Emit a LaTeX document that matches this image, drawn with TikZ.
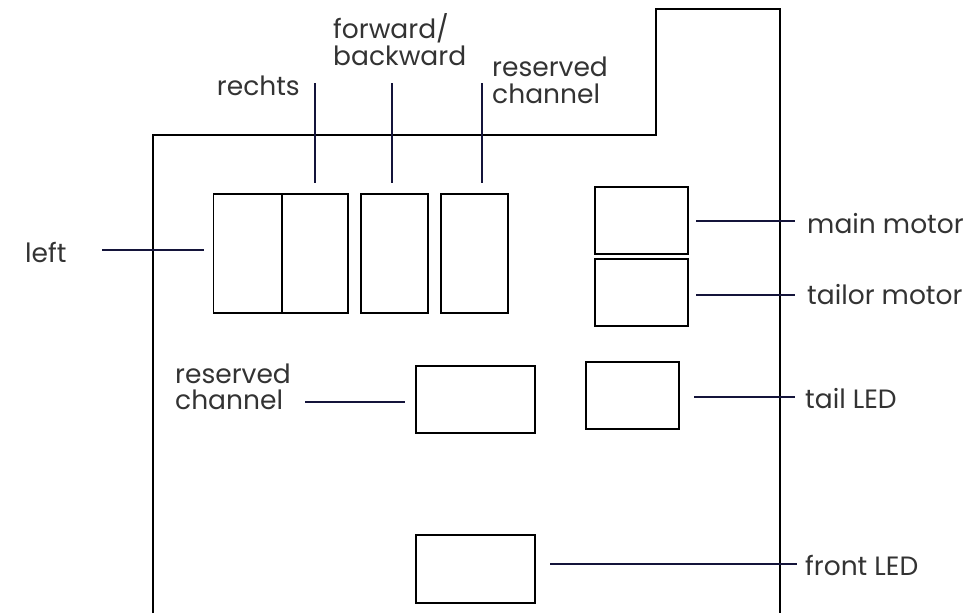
\documentclass[tikz,border=0pt]{standalone}
\usepackage{fontspec}
\setmainfont{Poppins}
\definecolor{navy}{HTML}{14143A}
\definecolor{txt}{HTML}{333333}
\begin{document}
\begin{tikzpicture}[x=1pt,y=-1pt,
  box/.style={draw=black,line width=1.5pt,inner sep=0pt,outer sep=0pt},
  conn/.style={draw=navy,line width=2.8pt},
  lbl/.style={text=txt,font=\fontsize{26.5}{30}\selectfont,inner sep=0pt},
  outline/.style={draw=black,line width=1.7pt}]
\useasboundingbox (0,0) rectangle (968,613);
% housing outline
\draw[outline] (153,613) -- (153,135) -- (656,135) -- (656,9) -- (780,9) -- (780,613);
% boxes
\node[box,minimum width=68pt,minimum height=119pt] (bl) at (247.5,253.5) {};
\node[box,minimum width=66pt,minimum height=119pt] (br) at (315,253.5) {};
\node[box,minimum width=67pt,minimum height=119pt] (bf) at (394.5,253.5) {};
\node[box,minimum width=67pt,minimum height=119pt] (brc) at (474.5,253.5) {};
\node[box,minimum width=93pt,minimum height=67pt] (mm) at (641.5,220.5) {};
\node[box,minimum width=93pt,minimum height=67pt] (tm) at (641.5,292.5) {};
\node[box,minimum width=93pt,minimum height=67pt] (tl) at (632.5,395.5) {};
\node[box,minimum width=119pt,minimum height=67pt] (rc2) at (475.5,399.5) {};
\node[box,minimum width=119pt,minimum height=68pt] (fl) at (475.5,569) {};
% free ends of connectors
\coordinate (cl1) at (102,250);  \coordinate (cl2) at (204,250);
\coordinate (cr1) at (315,83);   \coordinate (cr2) at (315,183);
\coordinate (cf1) at (392,83);   \coordinate (cf2) at (392,183);
\coordinate (cc1) at (482,83);   \coordinate (cc2) at (482,183);
\coordinate (cm1) at (696,221);  \coordinate (cm2) at (795,221);
\coordinate (ct1) at (696,295);  \coordinate (ct2) at (795,295);
\coordinate (ce1) at (694,397);  \coordinate (ce2) at (795,397);
\coordinate (cv1) at (305,402);  \coordinate (cv2) at (405,402);
\coordinate (cn1) at (550,564);  \coordinate (cn2) at (797,564);
\draw[conn] (cl1) -- (cl2);
\draw[conn] (cr1) -- (cr2);
\draw[conn] (cf1) -- (cf2);
\draw[conn] (cc1) -- (cc2);
\draw[conn] (cm1) -- (cm2);
\draw[conn] (ct1) -- (ct2);
\draw[conn] (ce1) -- (ce2);
\draw[conn] (cv1) -- (cv2);
\draw[conn] (cn1) -- (cn2);
% labels
\node[lbl,anchor=base west] (tleft) at (25,262) {left};
\node[lbl,anchor=base east] (trechts) at (300,95) {rechts};
\node[lbl,anchor=base west] (tfw1) at (333,38) {forward/};
\node[lbl,anchor=base west] (tfw2) at (333,65) {backward};
\node[lbl,anchor=base west] (trc1) at (492,76) {reserved};
\node[lbl,anchor=base west] (trc2) at (492,103) {channel};
\node[lbl,anchor=base west] (tmm) at (807,233) {main motor};
\node[lbl,anchor=base west] (ttm) at (807,304) {tailor motor};
\node[lbl,anchor=base west] (ttl) at (805,408) {tail LED};
\node[lbl,anchor=base west] (tfl) at (805,575) {front LED};
\node[lbl,anchor=base west] (trv1) at (175,383) {reserved};
\node[lbl,anchor=base west] (trv2) at (175,409) {channel};
\end{tikzpicture}
\end{document}
